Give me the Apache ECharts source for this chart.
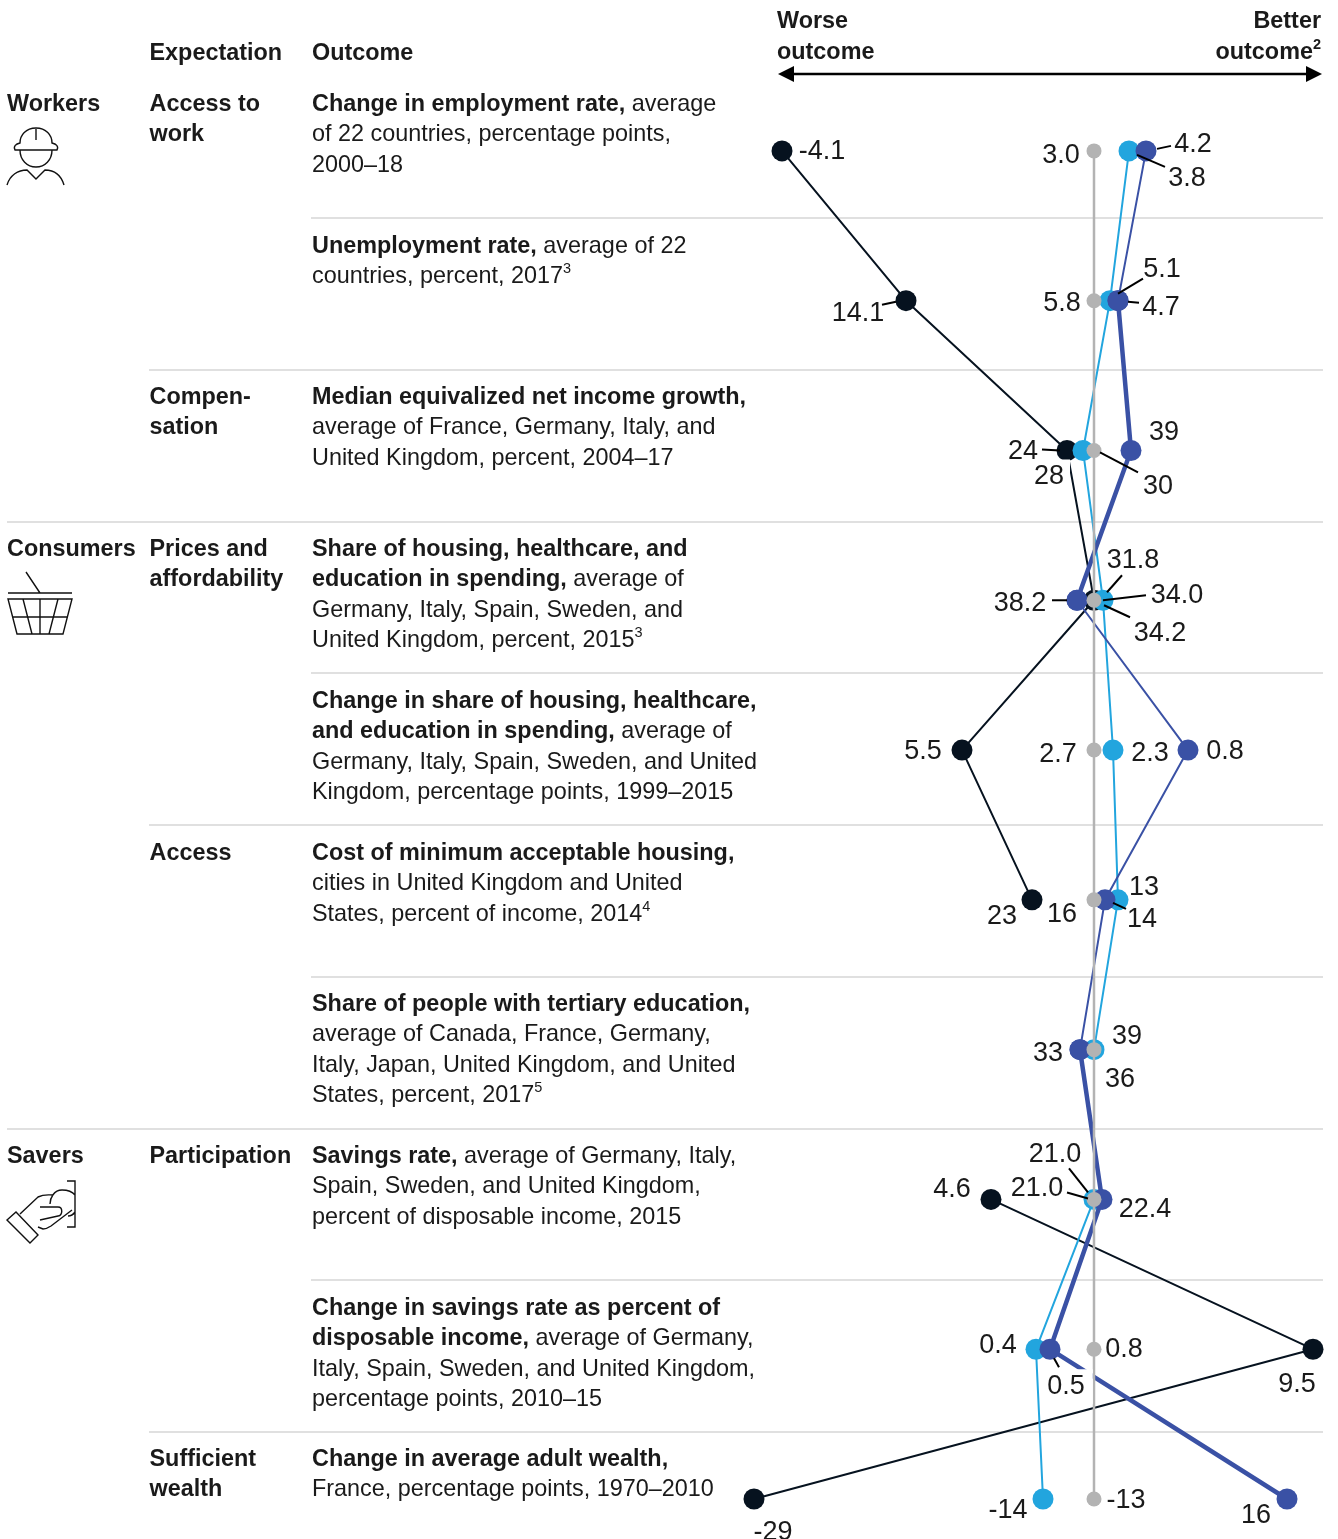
<!DOCTYPE html>
<html><head><meta charset="utf-8">
<style>html,body{margin:0;padding:0;background:#fff}#c{width:1338px;height:1539px}</style>
<script src="https://cdn.jsdelivr.net/npm/echarts@6/dist/echarts.min.js"></script>
</head><body><div id="c"></div>
<script>
// Row index runs top to bottom; x is the position relative to the grey reference line.
var rows = [0,1,2,3,4,5,6,7,8,9];
var blackPos = [-312,-188,-27,0,-132,-62,null,-103,219,-340];
var cyanPos  = [35,16,-11,9,19,24,0,0,-58,-51];
var bluePos  = [52,24,37,-17,94,11,-14,8,-44,193];
var greyPos  = [0,0,0,0,0,0,0,0,0,0];
var blackLabels = ['-4.1','14.1','24','34.0','5.5','23',null,'4.6','9.5','-29'];
var cyanLabels  = ['3.8','5.1','28','31.8','2.3','13','39','21.0','0.4','-14'];
var blueLabels  = ['4.2','4.7','39','38.2','0.8','14','33','22.4','0.5','16'];
var greyLabels  = ['3.0','5.8','30','34.2','2.7','16','36','21.0','0.8','-13'];
var blueThinRows  = [0,1,3,4,5,6];
var blueThickRows = [1,2,3,6,7,8,9];

// label placement: [dx, dy] and optional leader [x1,y1,x2,y2], relative to the dot
var blackPlace = [[40,-2],[-48,10,-24,4,-10,1],[-44,-1,-25,-1,-7,0],[83,-7,9,0,52,-5],[-39,-1],[-30,14],null,[-39,-12],[-16,33],[19,31]];
var cyanPlace  = [[58,25,8,4,36,16],[52,-34,8,-7,33,-22],[-32,24],[30,-42,4,-8,19,-25],[37,1],[26,-15],[33,-16],[-39,-47,-6,-7,-25,-31],[-38,-6],[-35,9]];
var bluePlace  = [[47,-9,11,-2,25,-5],[43,4,10,1,21,2],[33,-20],[-57,1,-25,0,-10,0],[37,-1],[37,17,8,3,21,9],[-32,1],[43,8],[18,35,4,9,9,18],[-31,14]];
var greyPlace  = [[-33,2],[-32,0],[64,34,6,2,44,22],[66,31,10,5,36,17],[-36,2],[-32,12],[26,27],[-57,-13,-27,-7,-6,-1],[30,-2],[32,-1]];
var labelBaselineShift = 2.5;

// Table text
var groupTexts = [['Workers',104.5],['Consumers',549.5],['Savers',1156.5]];
var expectationTexts = [['Access to\nwork',104.5],['Compen-\nsation',397.5],['Prices and\naffordability',549.5],['Access',853.5],['Participation',1156.5],['Sufficient\nwealth',1459.5]];
// each line: [bold part, regular part, superscript]
var outcomeTexts = [
 [104.5,[['Change in employment rate,',' average'],['','of 22 countries, percentage points,'],['','2000\u201318']]],
 [246.5,[['Unemployment rate,',' average of 22'],['','countries, percent, 2017','3']]],
 [397.5,[['Median equivalized net income growth,',''],['','average of France, Germany, Italy, and'],['','United Kingdom, percent, 2004\u201317']]],
 [549.5,[['Share of housing, healthcare, and',''],['education in spending,',' average of'],['','Germany, Italy, Spain, Sweden, and'],['','United Kingdom, percent, 2015','3']]],
 [701.5,[['Change in share of housing, healthcare,',''],['and education in spending,',' average of'],['','Germany, Italy, Spain, Sweden, and United'],['','Kingdom, percentage points, 1999\u20132015']]],
 [853.5,[['Cost of minimum acceptable housing,',''],['','cities in United Kingdom and United'],['','States, percent of income, 2014','4']]],
 [1004.5,[['Share of people with tertiary education,',''],['','average of Canada, France, Germany,'],['','Italy, Japan, United Kingdom, and United'],['','States, percent, 2017','5']]],
 [1156.5,[['Savings rate,',' average of Germany, Italy,'],['','Spain, Sweden, and United Kingdom,'],['','percent of disposable income, 2015']]],
 [1308.5,[['Change in savings rate as percent of',''],['disposable income,',' average of Germany,'],['','Italy, Spain, Sweden, and United Kingdom,'],['','percentage points, 2010\u201315']]],
 [1459.5,[['Change in average adult wealth,',''],['','France, percentage points, 1970\u20132010']]]
];
var separators = [[218,311],[370,149],[522,7],[673,311],[825,149],[977,311],[1129,7],[1280,311],[1432,149]];

var C = {black:'#06121f', cyan:'#22a5de', blue:'#3a51a5', grey:'#b3b3b3', sep:'#d6d6d6', text:'#1a1a1a'};
var FONT = '"Liberation Sans", Arial, sans-serif';
var BODY = 23.4, BOLD = 23.4, LINE = 30.4;
var RICH = {
  b:{fontFamily:FONT,fontSize:BOLD,fontWeight:'bold',fill:C.text,lineHeight:LINE},
  r:{fontFamily:FONT,fontSize:BODY,fill:C.text,lineHeight:LINE},
  s:{fontFamily:FONT,fontSize:14.5,fill:C.text,lineHeight:LINE,verticalAlign:'top'},
  bs:{fontFamily:FONT,fontSize:14.5,fontWeight:'bold',fill:C.text,lineHeight:LINE,verticalAlign:'top'}
};

function pts(pos, only){
  return rows.map(function(r){
    var v = pos[r];
    if (v === null || (only && only.indexOf(r) < 0)) return ['-', r];
    return [v, r];
  });
}
function line(name, data, color, width, size, z){
  return {type:'line', name:name, data:data, z:z, clip:false, silent:true, animation:false,
    symbol:'circle', symbolSize:size, showSymbol:true, showAllSymbol:true, connectNulls:false,
    lineStyle:{color:color,width:width}, itemStyle:{color:color,opacity:1}};
}

var labelItems = [];
[[blackPos,blackLabels,blackPlace],[cyanPos,cyanLabels,cyanPlace],[bluePos,blueLabels,bluePlace],[greyPos,greyLabels,greyPlace]].forEach(function(s){
  rows.forEach(function(r){ if (s[1][r] !== null) labelItems.push({x:s[0][r], r:r, t:s[1][r], p:s[2][r]}); });
});
var masked = {'28':[6,6,2,2], '0.5':[6,8,2,4]};

var labelSeries = {
  type:'custom', z:20, clip:false, silent:true, animation:false,
  data: labelItems.map(function(d){ return [d.x, d.r]; }),
  renderItem:function(params, api){
    var it = labelItems[params.dataIndex];
    var c = api.coord([api.value(0), api.value(1)]);
    var st = {text:it.t, x:c[0]+it.p[0], y:c[1]+it.p[1]+labelBaselineShift, textAlign:'center', textVerticalAlign:'middle',
              fontFamily:FONT, fontSize:27, fill:C.text};
    if (masked[it.t]) { st.backgroundColor = '#fff'; st.padding = masked[it.t]; }
    var kids = [{type:'text', style:st}];
    if (it.p.length > 2) kids.push({type:'line',
      shape:{x1:c[0]+it.p[2],y1:c[1]+it.p[3],x2:c[0]+it.p[4],y2:c[1]+it.p[5]},
      style:{stroke:'#000',lineWidth:2}});
    return {type:'group', children:kids};
  }
};

// Static table furniture
var g = [];
function boldText(t, x, cy, align){
  g.push({type:'text', silent:true, style:{text:t, x:x, y:cy-LINE/2, align:align||'left', verticalAlign:'top',
    fontFamily:FONT, fontSize:BOLD, fill:C.text, rich:RICH}});
}
function b(t){ return t.split('\n').map(function(l){ return '{b|'+l+'}'; }).join('\n'); }
groupTexts.forEach(function(d){ boldText(b(d[0]),7,d[1]); });
expectationTexts.forEach(function(d){ boldText(b(d[0]),149.5,d[1]); });
boldText(b('Expectation'),149.5,54);
boldText(b('Outcome'),312,54);
boldText(b('Worse\noutcome'),777,22);
boldText(b('Better\noutcome')+'{bs|2}',1321,22,'right');
outcomeTexts.forEach(function(block){
  var s = block[1].map(function(l){
    return (l[0] ? '{b|'+l[0]+'}' : '') + (l[1] ? '{r|'+l[1]+'}' : '') + (l[2] ? '{s|'+l[2]+'}' : '');
  }).join('\n');
  g.push({type:'text', silent:true, style:{text:s, x:312, y:block[0]-LINE/2, align:'left', verticalAlign:'top',
    fontFamily:FONT, fontSize:BODY, fill:C.text, rich:RICH}});
});
separators.forEach(function(s){
  g.push({type:'line', silent:true, z:-1, shape:{x1:s[1],y1:s[0],x2:1323,y2:s[0]}, style:{stroke:C.sep,lineWidth:1.5}});
});
// double arrow
g.push({type:'line', silent:true, shape:{x1:790,y1:74,x2:1310,y2:74}, style:{stroke:'#000',lineWidth:2.5}});
g.push({type:'polygon', silent:true, shape:{points:[[778,74],[794,66],[794,82]]}, style:{fill:'#000'}});
g.push({type:'polygon', silent:true, shape:{points:[[1322,74],[1306,66],[1306,82]]}, style:{fill:'#000'}});
// icons
function icon(name, d){
  echarts.graphic.registerShape(name, echarts.graphic.extendPath(d));
  g.push({type:name, silent:true, shape:{}, style:{fill:'none',stroke:'#111',lineWidth:1.4}});
}
icon('iconWorker','M15 150 C13 146 16 144 20 143 C20 135 26 128 36 128 C46 128 52 135 52 143 C56 144 59 146 57 150 Z M20 150 C20 160 27 167 36 167 C45 167 52 160 52 150 M36 129 L36 140 M7 185 C10 175 18 170 27 170 L36 179 L45 170 C54 170 61 175 64 185');
icon('iconBasket','M26 572 L40 593 M8 593 L72 593 M8 599 L72 599 L63 634 L17 634 Z M12 617 L68 617 M23 599 L32 634 M40 599 L40 634 M58 599 L49 634');
icon('iconHand','M67 1181 L75 1181 L75 1227 L67 1227 M75 1195 C71 1190 66 1190 62 1190 C54 1190 50 1198 50 1204 M75 1212 C73 1215 70 1216 68 1216 M7 1220 L16 1212 L38 1235 L30 1243 Z M20 1214 L38 1197 C44 1194 48 1195 53 1195 M40 1207 L58 1207 C63 1207 63 1215 58 1216 L40 1220 M38 1227 L43 1229 C46 1229 48 1228 51 1226 L72 1210');

var chart = echarts.init(document.getElementById('c'));
chart.setOption({
  animation:false, backgroundColor:'#fff',
  grid:{left:700, top:76, width:638, height:1463},
  xAxis:{type:'value', min:-394, max:244, show:false},
  yAxis:{type:'value', min:-0.5, max:9.267, inverse:true, show:false},
  tooltip:{show:false}, legend:{show:false},
  series:[
    line('Black', pts(blackPos), C.black, 2, 21, 2),
    line('Cyan', pts(cyanPos), C.cyan, 2, 21, 3),
    line('Blue', pts(bluePos, blueThinRows), C.blue, 2, 21, 4),
    line('Blue emphasis', pts(bluePos, blueThickRows), C.blue, 4.5, 21, 4),
    line('Grey', pts(greyPos), C.grey, 2.5, 15, 5),
    labelSeries
  ],
  graphic:{elements:g}
});
</script>
</body></html>
